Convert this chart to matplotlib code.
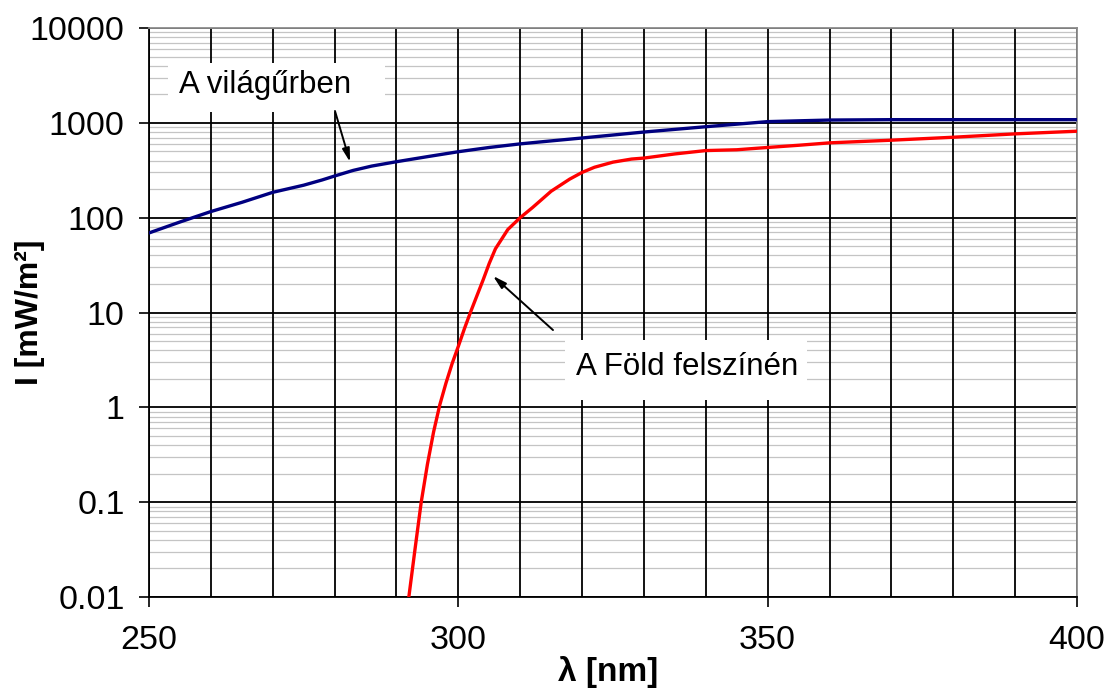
import matplotlib
matplotlib.use("Agg")
import matplotlib.pyplot as plt
from matplotlib.ticker import MultipleLocator, LogLocator, FixedLocator, NullFormatter
from matplotlib.patches import Rectangle

plt.rcParams['font.family'] = ['Liberation Sans', 'DejaVu Sans']

# --- data ---
space_wl = [250, 255, 260, 265, 270, 275, 278, 280, 283, 286, 290, 295, 300, 305,
            310, 315, 320, 330, 340, 350, 355, 360, 370, 380, 390, 400]
space_I = [69, 90, 116, 145, 185, 220, 250, 275, 315, 350, 389, 440, 496, 550,
           600, 645, 692, 800, 910, 1030, 1050, 1070, 1080, 1080, 1080, 1080]

ground_wl = [292, 293, 294, 295, 296, 297, 298, 299, 300, 301, 302, 303, 304, 305,
             306, 308, 310, 312, 315, 318, 320, 322, 325, 328, 330, 335, 340, 345,
             350, 355, 360, 370, 380, 390, 400]
ground_I = [0.01, 0.032, 0.1, 0.25, 0.55, 1.06, 1.8, 2.9, 4.4, 6.8, 10.2, 15, 22, 33,
            47, 75, 100, 128, 190, 255, 300, 340, 385, 415, 425, 470, 510, 520,
            550, 580, 615, 656, 705, 765, 816]

x_ticks = [250, 300, 350, 400]
y_ticks = [0.01, 0.1, 1, 10, 100, 1000, 10000]
y_tick_labels = ["0.01", "0.1", "1", "10", "100", "1000", "10000"]

label_space = "A világűrben"
label_ground = "A Föld felszínén"
x_label = "λ [nm]"
y_label = "I [mW/m²]"

# --- figure ---
W, H = 1107, 691
fig = plt.figure(figsize=(W / 100, H / 100), dpi=100)
ax = fig.add_axes([149 / W, 1 - 597 / H, (1077 - 149) / W, (597 - 28) / H])

ax.set_yscale('log')
ax.set_xlim(250, 400)
ax.set_ylim(0.01, 10000)

ax.xaxis.set_major_locator(FixedLocator(x_ticks))
ax.xaxis.set_minor_locator(MultipleLocator(10))
ax.yaxis.set_major_locator(FixedLocator(y_ticks))
ax.set_yticklabels(y_tick_labels)
ax.yaxis.set_minor_locator(LogLocator(base=10, subs=range(2, 10), numticks=20))
ax.yaxis.set_minor_formatter(NullFormatter())

ax.set_axisbelow(True)
ax.grid(True, which='major', axis='y', color='black', lw=1.3)
ax.grid(True, which='both', axis='x', color='black', lw=1.3)
# light minor horizontal grid beneath the black grid
for v in ax.yaxis.get_minorticklocs():
    if 0.01 < v < 10000:
        ax.axhline(v, color='#c4c4c4', lw=0.9, zorder=0.2)

ax.tick_params(axis='both', which='major', direction='out', length=7.5, width=1.2,
               color='black', labelsize=24.5, labelcolor='black')
ax.tick_params(axis='x', which='major', pad=13)
ax.tick_params(axis='y', which='major', pad=10)
ax.tick_params(axis='both', which='minor', length=0)

for s in ['left', 'bottom']:
    ax.spines[s].set_color('black')
    ax.spines[s].set_linewidth(1.3)
for s in ['top', 'right']:
    ax.spines[s].set_color('#8c8c8c')
    ax.spines[s].set_linewidth(1.3)

ax.plot(space_wl, space_I, color='#000080', lw=2.4, zorder=3)
ax.plot(ground_wl, ground_I, color='#ff0000', lw=2.4, zorder=3)

# annotation boxes (white, borderless)
ax.add_patch(Rectangle((253.07, 10 ** (4 - 84 / 94.83)), 35.07,
                       10 ** (4 - 35 / 94.83) - 10 ** (4 - 84 / 94.83),
                       facecolor='white', edgecolor='none', zorder=2))
ax.text(268.8, 2500, label_space, ha='center', va='center', fontsize=22.5, zorder=4)
ax.annotate('', xy=(282.5, 386), xytext=(280.06, 1333),
            arrowprops=dict(arrowstyle='-|>,head_length=0.8,head_width=0.22',
                            color='black', lw=1.4, shrinkA=0, shrinkB=0), zorder=4)

ax.add_patch(Rectangle((317.2, 1.19), 39.2, 5.13 - 1.19,
                       facecolor='white', edgecolor='none', zorder=2))
ax.text(337.0, 2.66, label_ground, ha='center', va='center', fontsize=22.5, zorder=4)
ax.annotate('', xy=(305.6, 24.3), xytext=(315.3, 6.53),
            arrowprops=dict(arrowstyle='-|>,head_length=0.8,head_width=0.22',
                            color='black', lw=1.4, shrinkA=0, shrinkB=0), zorder=4)

ax.set_xlabel(x_label, fontsize=24, fontweight='bold')
ax.set_ylabel(y_label, fontsize=23, fontweight='bold')
ax.xaxis.set_label_coords(0.4946, -0.104)
ax.yaxis.set_label_coords(-0.112, 0.5)

fig.savefig('out.png', dpi=100)
